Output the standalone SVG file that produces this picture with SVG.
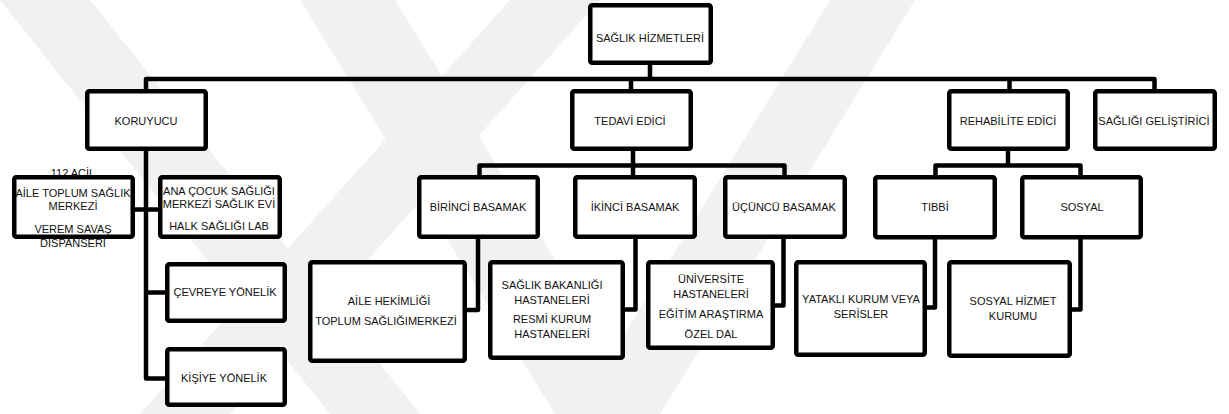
<svg xmlns="http://www.w3.org/2000/svg" width="1229" height="414" viewBox="0 0 1229 414">
<style>
.bx{fill:#fff;stroke:#000;stroke-width:4.5}
.bo{fill:none;stroke:#000;stroke-width:4.5}
.cn{fill:none;stroke:#000;stroke-width:4.5;stroke-linejoin:round}
.t{font-family:"Liberation Sans",Arial,sans-serif;font-size:11px;fill:#111;text-anchor:middle}
.wm{fill:#f1f1f1}
</style>
<rect width="1229" height="414" fill="#fff"/>
<g id="watermark">
<polygon class="wm" points="0,0 90,0 420,414 330,414"/>
<polygon class="wm" points="510,0 600,0 230,414 140,414"/>
<polygon class="wm" points="300,0 395,0 650,414 555,414"/>
<polygon class="wm" points="830,0 915,0 660,414 575,414"/>
</g>
<g id="connectors">
<path class="cn" d="M650,63 V79 M146,91 V79 H1154.5 V91 M631,79 V91 M1009.5,79 V91"/>
<path class="cn" d="M633,148 V165.5 M479.5,177 V165.5 H784.5 V177 M633,165.5 V177"/>
<path class="cn" d="M1008,148 V165.5 M935.5,177 V165.5 H1080.5 V177"/>
<path class="cn" d="M146,148 V378.5 H167 M133,209.5 H160 M146,292.5 H167"/>
<path class="cn" d="M478,237 V310 H465"/>
<path class="cn" d="M635.5,237 V309.5 H623"/>
<path class="cn" d="M783.5,237 V305.5 H773"/>
<path class="cn" d="M935,237 V307.5 H925"/>
<path class="cn" d="M1080.5,237 V309.5 H1070"/>
</g>
<g id="n-root"><rect class="bx" x="590.25" y="5.25" width="120.5" height="57.5" rx="2"/><text class="t" x="650" y="42">SAĞLIK HİZMETLERİ</text></g>
<g id="n-koruyucu"><rect class="bx" x="87.25" y="91.25" width="118.5" height="57.5" rx="2"/><text class="t" x="146" y="125">KORUYUCU</text></g>
<g id="n-tedavi"><rect class="bx" x="572.25" y="91.25" width="118.5" height="57.5" rx="2"/><text class="t" x="630" y="125">TEDAVİ EDİCİ</text></g>
<g id="n-rehab"><rect class="bx" x="949.25" y="91.25" width="118.5" height="57.5" rx="2"/><text class="t" x="1008" y="125">REHABİLİTE EDİCİ</text></g>
<g id="n-gelistirici"><rect class="bx" x="1095.25" y="91.25" width="119.5" height="57.5" rx="2"/><text class="t" x="1154" y="125">SAĞLIĞI GELİŞTİRİCİ</text></g>
<g id="n-birinci"><rect class="bx" x="419.25" y="177.25" width="118.5" height="59.5" rx="2"/><text class="t" x="478" y="211">BİRİNCİ BASAMAK</text></g>
<g id="n-ikinci"><rect class="bx" x="575.25" y="177.25" width="119.5" height="59.5" rx="2"/><text class="t" x="635" y="211">İKİNCİ BASAMAK</text></g>
<g id="n-ucuncu"><rect class="bx" x="725.25" y="177.25" width="119.5" height="59.5" rx="2"/><text class="t" x="784" y="211">ÜÇÜNCÜ BASAMAK</text></g>
<g id="n-tibbi"><rect class="bx" x="875.25" y="177.25" width="119.5" height="60" rx="2"/><text class="t" x="935" y="211">TIBBİ</text></g>
<g id="n-sosyal"><rect class="bx" x="1022.25" y="177.25" width="118.5" height="60" rx="2"/><text class="t" x="1082" y="211">SOSYAL</text></g>
<g id="n-aile-toplum">
<rect x="14.25" y="177.25" width="118.5" height="59.5" fill="#fff"/>
<text class="t" x="73" y="177">112 ACİL</text>
<text class="t" x="73" y="197">AİLE TOPLUM SAĞLIK</text>
<text class="t" x="73" y="210">MERKEZİ</text>
<text class="t" x="73" y="233">VEREM SAVAŞ</text>
<text class="t" x="73" y="246.5">DİSPANSERİ</text>
<rect class="bo" x="14.25" y="177.25" width="118.5" height="59.5" rx="2"/>
</g>
<g id="n-ana-cocuk"><rect class="bx" x="160.25" y="177.25" width="119.5" height="59.5" rx="2"/>
<text class="t" x="219" y="195">ANA ÇOCUK SAĞLIĞI</text>
<text class="t" x="219" y="207.5">MERKEZİ SAĞLIK EVİ</text>
<text class="t" x="219" y="229.5">HALK SAĞLIĞI LAB</text></g>
<g id="n-cevreye"><rect class="bx" x="167.25" y="264.25" width="117.5" height="56.5" rx="2"/><text class="t" x="225" y="295.5">ÇEVREYE YÖNELİK</text></g>
<g id="n-kisiye"><rect class="bx" x="167.25" y="349.25" width="117.5" height="55.5" rx="2"/><text class="t" x="224" y="382">KİŞİYE YÖNELİK</text></g>
<g id="n-aile-hekimligi"><rect class="bx" x="310.25" y="262.25" width="154.5" height="98.5" rx="2"/>
<text class="t" x="389" y="305">AİLE HEKİMLİĞİ</text>
<text class="t" x="386" y="325">TOPLUM SAĞLIĞIMERKEZİ</text></g>
<g id="n-saglik-bakanligi"><rect class="bx" x="490.25" y="262.25" width="132.5" height="95.5" rx="2"/>
<text class="t" x="552" y="289">SAĞLIK BAKANLIĞI</text>
<text class="t" x="552" y="304">HASTANELERİ</text>
<text class="t" x="552" y="323">RESMİ KURUM</text>
<text class="t" x="552" y="338">HASTANELERİ</text></g>
<g id="n-universite"><rect class="bx" x="648.25" y="262.25" width="124.5" height="85.5" rx="2"/>
<text class="t" x="711" y="283">ÜNİVERSİTE</text>
<text class="t" x="711" y="298">HASTANELERİ</text>
<text class="t" x="711" y="318">EĞİTİM ARAŞTIRMA</text>
<text class="t" x="711" y="338">ÖZEL DAL</text></g>
<g id="n-yatakli"><rect class="bx" x="796.25" y="262.25" width="128.5" height="92.5" rx="2"/>
<text class="t" x="861" y="303">YATAKLI KURUM VEYA</text>
<text class="t" x="861" y="318">SERİSLER</text></g>
<g id="n-sosyal-hizmet"><rect class="bx" x="949.25" y="262.25" width="120.5" height="93.5" rx="2"/>
<text class="t" x="1013" y="305">SOSYAL HİZMET</text>
<text class="t" x="1013" y="320">KURUMU</text></g>
</svg>
